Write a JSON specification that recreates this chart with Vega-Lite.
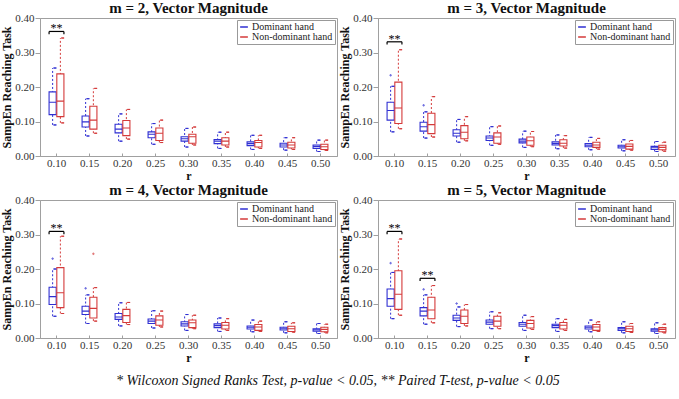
{
"$schema": "https://vega.github.io/schema/vega-lite/v6.json",
"padding": {"left": 0, "top": 0, "right": 2, "bottom": 2},
"datasets": {
"box": [
{"m":2,"r":"0.10","hand":"Dominant hand","lo":0.090,"q1":0.120,"med":0.156,"q3":0.186,"hi":0.255},
{"m":2,"r":"0.10","hand":"Non-dominant hand","lo":0.096,"q1":0.114,"med":0.159,"q3":0.238,"hi":0.342},
{"m":2,"r":"0.15","hand":"Dominant hand","lo":0.058,"q1":0.084,"med":0.099,"q3":0.116,"hi":0.166},
{"m":2,"r":"0.15","hand":"Non-dominant hand","lo":0.066,"q1":0.078,"med":0.104,"q3":0.144,"hi":0.196},
{"m":2,"r":"0.20","hand":"Dominant hand","lo":0.043,"q1":0.067,"med":0.078,"q3":0.092,"hi":0.122},
{"m":2,"r":"0.20","hand":"Non-dominant hand","lo":0.049,"q1":0.059,"med":0.081,"q3":0.103,"hi":0.135},
{"m":2,"r":"0.25","hand":"Dominant hand","lo":0.034,"q1":0.053,"med":0.063,"q3":0.070,"hi":0.094},
{"m":2,"r":"0.25","hand":"Non-dominant hand","lo":0.039,"q1":0.045,"med":0.066,"q3":0.081,"hi":0.104},
{"m":2,"r":"0.30","hand":"Dominant hand","lo":0.026,"q1":0.043,"med":0.050,"q3":0.056,"hi":0.080},
{"m":2,"r":"0.30","hand":"Non-dominant hand","lo":0.032,"q1":0.037,"med":0.056,"q3":0.063,"hi":0.084},
{"m":2,"r":"0.35","hand":"Dominant hand","lo":0.022,"q1":0.036,"med":0.043,"q3":0.048,"hi":0.069},
{"m":2,"r":"0.35","hand":"Non-dominant hand","lo":0.026,"q1":0.032,"med":0.043,"q3":0.053,"hi":0.069},
{"m":2,"r":"0.40","hand":"Dominant hand","lo":0.019,"q1":0.030,"med":0.036,"q3":0.041,"hi":0.060},
{"m":2,"r":"0.40","hand":"Non-dominant hand","lo":0.022,"q1":0.026,"med":0.039,"q3":0.045,"hi":0.060},
{"m":2,"r":"0.45","hand":"Dominant hand","lo":0.017,"q1":0.026,"med":0.032,"q3":0.037,"hi":0.053},
{"m":2,"r":"0.45","hand":"Non-dominant hand","lo":0.019,"q1":0.023,"med":0.032,"q3":0.040,"hi":0.053},
{"m":2,"r":"0.50","hand":"Dominant hand","lo":0.013,"q1":0.022,"med":0.028,"q3":0.032,"hi":0.046},
{"m":2,"r":"0.50","hand":"Non-dominant hand","lo":0.016,"q1":0.019,"med":0.027,"q3":0.034,"hi":0.046},
{"m":3,"r":"0.10","hand":"Dominant hand","lo":0.070,"q1":0.104,"med":0.132,"q3":0.156,"hi":0.202},
{"m":3,"r":"0.10","hand":"Non-dominant hand","lo":0.079,"q1":0.094,"med":0.139,"q3":0.214,"hi":0.308},
{"m":3,"r":"0.15","hand":"Dominant hand","lo":0.052,"q1":0.072,"med":0.085,"q3":0.098,"hi":0.128},
{"m":3,"r":"0.15","hand":"Non-dominant hand","lo":0.055,"q1":0.065,"med":0.091,"q3":0.124,"hi":0.172},
{"m":3,"r":"0.20","hand":"Dominant hand","lo":0.040,"q1":0.058,"med":0.066,"q3":0.076,"hi":0.106},
{"m":3,"r":"0.20","hand":"Non-dominant hand","lo":0.044,"q1":0.050,"med":0.069,"q3":0.088,"hi":0.114},
{"m":3,"r":"0.25","hand":"Dominant hand","lo":0.031,"q1":0.045,"med":0.052,"q3":0.058,"hi":0.085},
{"m":3,"r":"0.25","hand":"Non-dominant hand","lo":0.034,"q1":0.037,"med":0.055,"q3":0.067,"hi":0.087},
{"m":3,"r":"0.30","hand":"Dominant hand","lo":0.025,"q1":0.038,"med":0.043,"q3":0.049,"hi":0.072},
{"m":3,"r":"0.30","hand":"Non-dominant hand","lo":0.027,"q1":0.031,"med":0.044,"q3":0.055,"hi":0.071},
{"m":3,"r":"0.35","hand":"Dominant hand","lo":0.021,"q1":0.032,"med":0.036,"q3":0.041,"hi":0.061},
{"m":3,"r":"0.35","hand":"Non-dominant hand","lo":0.023,"q1":0.029,"med":0.037,"q3":0.047,"hi":0.059},
{"m":3,"r":"0.40","hand":"Dominant hand","lo":0.018,"q1":0.027,"med":0.031,"q3":0.036,"hi":0.054},
{"m":3,"r":"0.40","hand":"Non-dominant hand","lo":0.020,"q1":0.025,"med":0.032,"q3":0.040,"hi":0.051},
{"m":3,"r":"0.45","hand":"Dominant hand","lo":0.015,"q1":0.023,"med":0.027,"q3":0.031,"hi":0.047},
{"m":3,"r":"0.45","hand":"Non-dominant hand","lo":0.017,"q1":0.020,"med":0.028,"q3":0.035,"hi":0.045},
{"m":3,"r":"0.50","hand":"Dominant hand","lo":0.013,"q1":0.019,"med":0.024,"q3":0.028,"hi":0.042},
{"m":3,"r":"0.50","hand":"Non-dominant hand","lo":0.014,"q1":0.018,"med":0.025,"q3":0.031,"hi":0.040},
{"m":4,"r":"0.10","hand":"Dominant hand","lo":0.063,"q1":0.097,"med":0.120,"q3":0.147,"hi":0.200},
{"m":4,"r":"0.10","hand":"Non-dominant hand","lo":0.071,"q1":0.088,"med":0.131,"q3":0.204,"hi":0.295},
{"m":4,"r":"0.15","hand":"Dominant hand","lo":0.042,"q1":0.068,"med":0.078,"q3":0.092,"hi":0.125},
{"m":4,"r":"0.15","hand":"Non-dominant hand","lo":0.049,"q1":0.058,"med":0.086,"q3":0.118,"hi":0.146},
{"m":4,"r":"0.20","hand":"Dominant hand","lo":0.035,"q1":0.054,"med":0.061,"q3":0.071,"hi":0.102},
{"m":4,"r":"0.20","hand":"Non-dominant hand","lo":0.039,"q1":0.045,"med":0.065,"q3":0.083,"hi":0.103},
{"m":4,"r":"0.25","hand":"Dominant hand","lo":0.029,"q1":0.042,"med":0.049,"q3":0.055,"hi":0.079},
{"m":4,"r":"0.25","hand":"Non-dominant hand","lo":0.032,"q1":0.037,"med":0.052,"q3":0.064,"hi":0.078},
{"m":4,"r":"0.30","hand":"Dominant hand","lo":0.022,"q1":0.035,"med":0.041,"q3":0.047,"hi":0.068},
{"m":4,"r":"0.30","hand":"Non-dominant hand","lo":0.027,"q1":0.030,"med":0.044,"q3":0.052,"hi":0.066},
{"m":4,"r":"0.35","hand":"Dominant hand","lo":0.019,"q1":0.030,"med":0.036,"q3":0.041,"hi":0.058},
{"m":4,"r":"0.35","hand":"Non-dominant hand","lo":0.022,"q1":0.026,"med":0.037,"q3":0.045,"hi":0.056},
{"m":4,"r":"0.40","hand":"Dominant hand","lo":0.018,"q1":0.026,"med":0.031,"q3":0.035,"hi":0.052},
{"m":4,"r":"0.40","hand":"Non-dominant hand","lo":0.019,"q1":0.022,"med":0.032,"q3":0.039,"hi":0.049},
{"m":4,"r":"0.45","hand":"Dominant hand","lo":0.015,"q1":0.023,"med":0.027,"q3":0.031,"hi":0.047},
{"m":4,"r":"0.45","hand":"Non-dominant hand","lo":0.017,"q1":0.019,"med":0.027,"q3":0.034,"hi":0.044},
{"m":4,"r":"0.50","hand":"Dominant hand","lo":0.013,"q1":0.020,"med":0.024,"q3":0.027,"hi":0.042},
{"m":4,"r":"0.50","hand":"Non-dominant hand","lo":0.015,"q1":0.018,"med":0.025,"q3":0.031,"hi":0.040},
{"m":5,"r":"0.10","hand":"Dominant hand","lo":0.056,"q1":0.092,"med":0.114,"q3":0.142,"hi":0.190},
{"m":5,"r":"0.10","hand":"Non-dominant hand","lo":0.066,"q1":0.083,"med":0.127,"q3":0.195,"hi":0.287},
{"m":5,"r":"0.15","hand":"Dominant hand","lo":0.040,"q1":0.064,"med":0.078,"q3":0.088,"hi":0.125},
{"m":5,"r":"0.15","hand":"Non-dominant hand","lo":0.044,"q1":0.056,"med":0.081,"q3":0.118,"hi":0.152},
{"m":5,"r":"0.20","hand":"Dominant hand","lo":0.033,"q1":0.051,"med":0.058,"q3":0.066,"hi":0.090},
{"m":5,"r":"0.20","hand":"Non-dominant hand","lo":0.035,"q1":0.042,"med":0.063,"q3":0.081,"hi":0.097},
{"m":5,"r":"0.25","hand":"Dominant hand","lo":0.027,"q1":0.040,"med":0.046,"q3":0.052,"hi":0.076},
{"m":5,"r":"0.25","hand":"Non-dominant hand","lo":0.027,"q1":0.034,"med":0.049,"q3":0.063,"hi":0.073},
{"m":5,"r":"0.30","hand":"Dominant hand","lo":0.022,"q1":0.034,"med":0.040,"q3":0.045,"hi":0.066},
{"m":5,"r":"0.30","hand":"Non-dominant hand","lo":0.025,"q1":0.029,"med":0.042,"q3":0.051,"hi":0.062},
{"m":5,"r":"0.35","hand":"Dominant hand","lo":0.019,"q1":0.030,"med":0.036,"q3":0.040,"hi":0.056},
{"m":5,"r":"0.35","hand":"Non-dominant hand","lo":0.022,"q1":0.026,"med":0.037,"q3":0.045,"hi":0.054},
{"m":5,"r":"0.40","hand":"Dominant hand","lo":0.018,"q1":0.026,"med":0.031,"q3":0.035,"hi":0.052},
{"m":5,"r":"0.40","hand":"Non-dominant hand","lo":0.019,"q1":0.022,"med":0.032,"q3":0.039,"hi":0.047},
{"m":5,"r":"0.45","hand":"Dominant hand","lo":0.015,"q1":0.022,"med":0.027,"q3":0.030,"hi":0.047},
{"m":5,"r":"0.45","hand":"Non-dominant hand","lo":0.016,"q1":0.019,"med":0.027,"q3":0.034,"hi":0.042},
{"m":5,"r":"0.50","hand":"Dominant hand","lo":0.013,"q1":0.020,"med":0.024,"q3":0.027,"hi":0.044},
{"m":5,"r":"0.50","hand":"Non-dominant hand","lo":0.015,"q1":0.018,"med":0.025,"q3":0.030,"hi":0.040}
],
"out": [
{"m":3,"r":"0.10","hand":"Dominant hand","v":0.234},
{"m":3,"r":"0.15","hand":"Dominant hand","v":0.147},
{"m":4,"r":"0.10","hand":"Dominant hand","v":0.230},
{"m":4,"r":"0.15","hand":"Dominant hand","v":0.144},
{"m":4,"r":"0.15","hand":"Non-dominant hand","v":0.244},
{"m":5,"r":"0.10","hand":"Dominant hand","v":0.217},
{"m":5,"r":"0.15","hand":"Dominant hand","v":0.141},
{"m":5,"r":"0.20","hand":"Dominant hand","v":0.100}
],
"sig": [
{"m":2,"r":"0.10","y":0.361,"ylo":0.353,"label":"**"},
{"m":3,"r":"0.10","y":0.331,"ylo":0.323,"label":"**"},
{"m":4,"r":"0.10","y":0.309,"ylo":0.301,"label":"**"},
{"m":5,"r":"0.10","y":0.309,"ylo":0.301,"label":"**"},
{"m":5,"r":"0.15","y":0.173,"ylo":0.165,"label":"**"}
]
},
"columns": 2,
"spacing": {"row": 0, "column": 0},
"resolve": {"scale": {"stroke": "independent"}, "legend": {"stroke": "independent"}},
"title": {"text": "* Wilcoxon Signed Ranks Test, p-value < 0.05, ** Paired T-test, p-value < 0.05", "orient": "bottom", "anchor": "middle", "fontStyle": "italic", "fontWeight": "normal", "fontSize": 14, "offset": 10},
"concat": [
{"title": "m = 2, Vector Magnitude", "width": 297, "height": 138, "layer": [
 {"data": {"name": "box"}, "transform": [{"filter": "datum.m == 2"}], "mark": {"type": "rule", "strokeDash": [2, 2], "strokeWidth": 1},
  "encoding": {"x": {"field": "r", "type": "nominal", "scale": {"domain": ["0.10","0.15","0.20","0.25","0.30","0.35","0.40","0.45","0.50"], "paddingInner": 0.55, "paddingOuter": 0.275}, "title": "r", "axis": {"labelAngle": 0}},
   "xOffset": {"field": "hand", "type": "nominal", "scale": {"domain": ["Dominant hand","Non-dominant hand"], "paddingInner": 0.08}},
   "y": {"field": "lo", "type": "quantitative", "scale": {"domain": [0, 0.4]}, "title": "SampEn Reaching Task"},
   "y2": {"field": "hi"},
   "stroke": {"field": "hand", "type": "nominal", "title": null, "scale": {"domain": ["Dominant hand","Non-dominant hand"], "range": ["#2f2fd2", "#d43a3a"]}, "legend": {"symbolType": "stroke"}}}},
 {"data": {"name": "box"}, "transform": [{"filter": "datum.m == 2"}], "mark": {"type": "bar", "fill": "white", "strokeWidth": 1.1},
  "encoding": {"x": {"field": "r", "type": "nominal", "title": "r"}, "xOffset": {"field": "hand", "type": "nominal"},
   "y": {"field": "q1", "type": "quantitative", "title": "SampEn Reaching Task"}, "y2": {"field": "q3"},
   "stroke": {"field": "hand", "type": "nominal", "title": null}}},
 {"data": {"name": "box"}, "transform": [{"filter": "datum.m == 2"}], "mark": {"type": "bar", "strokeWidth": 1.1},
  "encoding": {"x": {"field": "r", "type": "nominal", "title": "r"}, "xOffset": {"field": "hand", "type": "nominal"},
   "y": {"field": "med", "type": "quantitative", "title": "SampEn Reaching Task"}, "y2": {"field": "med"},
   "stroke": {"field": "hand", "type": "nominal", "title": null}}},
 {"data": {"name": "box"}, "transform": [{"filter": "datum.m == 2"}], "mark": {"type": "bar", "strokeWidth": 1, "width": {"band": 0.4}},
  "encoding": {"x": {"field": "r", "type": "nominal", "title": "r"}, "xOffset": {"field": "hand", "type": "nominal"},
   "y": {"field": "hi", "type": "quantitative", "title": "SampEn Reaching Task"}, "y2": {"field": "hi"},
   "stroke": {"field": "hand", "type": "nominal", "title": null}}},
 {"data": {"name": "box"}, "transform": [{"filter": "datum.m == 2"}], "mark": {"type": "bar", "strokeWidth": 1, "width": {"band": 0.4}},
  "encoding": {"x": {"field": "r", "type": "nominal", "title": "r"}, "xOffset": {"field": "hand", "type": "nominal"},
   "y": {"field": "lo", "type": "quantitative", "title": "SampEn Reaching Task"}, "y2": {"field": "lo"},
   "stroke": {"field": "hand", "type": "nominal", "title": null}}},
 {"data": {"name": "sig"}, "transform": [{"filter": "datum.m == 2"}], "mark": {"type": "rule", "color": "black", "strokeWidth": 1.2},
  "encoding": {"x": {"field": "r", "type": "nominal", "title": "r", "bandPosition": 0}, "x2": {"field": "r", "bandPosition": 1}, "y": {"field": "y", "type": "quantitative", "title": "SampEn Reaching Task"}}},
 {"data": {"name": "sig"}, "transform": [{"filter": "datum.m == 2"}], "mark": {"type": "rule", "color": "black", "strokeWidth": 1.2},
  "encoding": {"x": {"field": "r", "type": "nominal", "title": "r", "bandPosition": 0}, "y": {"field": "y", "type": "quantitative", "title": "SampEn Reaching Task"}, "y2": {"field": "ylo"}}},
 {"data": {"name": "sig"}, "transform": [{"filter": "datum.m == 2"}], "mark": {"type": "rule", "color": "black", "strokeWidth": 1.2},
  "encoding": {"x": {"field": "r", "type": "nominal", "title": "r", "bandPosition": 1}, "y": {"field": "y", "type": "quantitative", "title": "SampEn Reaching Task"}, "y2": {"field": "ylo"}}},
 {"data": {"name": "sig"}, "transform": [{"filter": "datum.m == 2"}], "mark": {"type": "text", "color": "black", "fontSize": 12, "fontWeight": "normal", "baseline": "alphabetic", "dy": 1},
  "encoding": {"x": {"field": "r", "type": "nominal", "title": "r"}, "y": {"field": "y", "type": "quantitative", "title": "SampEn Reaching Task"}, "text": {"field": "label"}}}
]},
{"title": "m = 3, Vector Magnitude", "width": 297, "height": 138, "layer": [
 {"data": {"name": "box"}, "transform": [{"filter": "datum.m == 3"}], "mark": {"type": "rule", "strokeDash": [2, 2], "strokeWidth": 1},
  "encoding": {"x": {"field": "r", "type": "nominal", "scale": {"domain": ["0.10","0.15","0.20","0.25","0.30","0.35","0.40","0.45","0.50"], "paddingInner": 0.55, "paddingOuter": 0.275}, "title": "r", "axis": {"labelAngle": 0}},
   "xOffset": {"field": "hand", "type": "nominal", "scale": {"domain": ["Dominant hand","Non-dominant hand"], "paddingInner": 0.08}},
   "y": {"field": "lo", "type": "quantitative", "scale": {"domain": [0, 0.4]}, "title": "SampEn Reaching Task"},
   "y2": {"field": "hi"},
   "stroke": {"field": "hand", "type": "nominal", "title": null, "scale": {"domain": ["Dominant hand","Non-dominant hand"], "range": ["#2f2fd2", "#d43a3a"]}, "legend": {"symbolType": "stroke"}}}},
 {"data": {"name": "box"}, "transform": [{"filter": "datum.m == 3"}], "mark": {"type": "bar", "fill": "white", "strokeWidth": 1.1},
  "encoding": {"x": {"field": "r", "type": "nominal", "title": "r"}, "xOffset": {"field": "hand", "type": "nominal"},
   "y": {"field": "q1", "type": "quantitative", "title": "SampEn Reaching Task"}, "y2": {"field": "q3"},
   "stroke": {"field": "hand", "type": "nominal", "title": null}}},
 {"data": {"name": "box"}, "transform": [{"filter": "datum.m == 3"}], "mark": {"type": "bar", "strokeWidth": 1.1},
  "encoding": {"x": {"field": "r", "type": "nominal", "title": "r"}, "xOffset": {"field": "hand", "type": "nominal"},
   "y": {"field": "med", "type": "quantitative", "title": "SampEn Reaching Task"}, "y2": {"field": "med"},
   "stroke": {"field": "hand", "type": "nominal", "title": null}}},
 {"data": {"name": "box"}, "transform": [{"filter": "datum.m == 3"}], "mark": {"type": "bar", "strokeWidth": 1, "width": {"band": 0.4}},
  "encoding": {"x": {"field": "r", "type": "nominal", "title": "r"}, "xOffset": {"field": "hand", "type": "nominal"},
   "y": {"field": "hi", "type": "quantitative", "title": "SampEn Reaching Task"}, "y2": {"field": "hi"},
   "stroke": {"field": "hand", "type": "nominal", "title": null}}},
 {"data": {"name": "box"}, "transform": [{"filter": "datum.m == 3"}], "mark": {"type": "bar", "strokeWidth": 1, "width": {"band": 0.4}},
  "encoding": {"x": {"field": "r", "type": "nominal", "title": "r"}, "xOffset": {"field": "hand", "type": "nominal"},
   "y": {"field": "lo", "type": "quantitative", "title": "SampEn Reaching Task"}, "y2": {"field": "lo"},
   "stroke": {"field": "hand", "type": "nominal", "title": null}}},
 {"data": {"name": "out"}, "transform": [{"filter": "datum.m == 3"}], "mark": {"type": "point", "shape": "M-0.5,0H0.5M0,-0.5V0.5", "size": 25, "strokeWidth": 1},
  "encoding": {"x": {"field": "r", "type": "nominal", "title": "r"}, "xOffset": {"field": "hand", "type": "nominal"},
   "y": {"field": "v", "type": "quantitative", "title": "SampEn Reaching Task"},
   "stroke": {"field": "hand", "type": "nominal", "title": null}}},
 {"data": {"name": "sig"}, "transform": [{"filter": "datum.m == 3"}], "mark": {"type": "rule", "color": "black", "strokeWidth": 1.2},
  "encoding": {"x": {"field": "r", "type": "nominal", "title": "r", "bandPosition": 0}, "x2": {"field": "r", "bandPosition": 1}, "y": {"field": "y", "type": "quantitative", "title": "SampEn Reaching Task"}}},
 {"data": {"name": "sig"}, "transform": [{"filter": "datum.m == 3"}], "mark": {"type": "rule", "color": "black", "strokeWidth": 1.2},
  "encoding": {"x": {"field": "r", "type": "nominal", "title": "r", "bandPosition": 0}, "y": {"field": "y", "type": "quantitative", "title": "SampEn Reaching Task"}, "y2": {"field": "ylo"}}},
 {"data": {"name": "sig"}, "transform": [{"filter": "datum.m == 3"}], "mark": {"type": "rule", "color": "black", "strokeWidth": 1.2},
  "encoding": {"x": {"field": "r", "type": "nominal", "title": "r", "bandPosition": 1}, "y": {"field": "y", "type": "quantitative", "title": "SampEn Reaching Task"}, "y2": {"field": "ylo"}}},
 {"data": {"name": "sig"}, "transform": [{"filter": "datum.m == 3"}], "mark": {"type": "text", "color": "black", "fontSize": 12, "fontWeight": "normal", "baseline": "alphabetic", "dy": 1},
  "encoding": {"x": {"field": "r", "type": "nominal", "title": "r"}, "y": {"field": "y", "type": "quantitative", "title": "SampEn Reaching Task"}, "text": {"field": "label"}}}
]},
{"title": "m = 4, Vector Magnitude", "width": 297, "height": 138, "layer": [
 {"data": {"name": "box"}, "transform": [{"filter": "datum.m == 4"}], "mark": {"type": "rule", "strokeDash": [2, 2], "strokeWidth": 1},
  "encoding": {"x": {"field": "r", "type": "nominal", "scale": {"domain": ["0.10","0.15","0.20","0.25","0.30","0.35","0.40","0.45","0.50"], "paddingInner": 0.55, "paddingOuter": 0.275}, "title": "r", "axis": {"labelAngle": 0}},
   "xOffset": {"field": "hand", "type": "nominal", "scale": {"domain": ["Dominant hand","Non-dominant hand"], "paddingInner": 0.08}},
   "y": {"field": "lo", "type": "quantitative", "scale": {"domain": [0, 0.4]}, "title": "SampEn Reaching Task"},
   "y2": {"field": "hi"},
   "stroke": {"field": "hand", "type": "nominal", "title": null, "scale": {"domain": ["Dominant hand","Non-dominant hand"], "range": ["#2f2fd2", "#d43a3a"]}, "legend": {"symbolType": "stroke"}}}},
 {"data": {"name": "box"}, "transform": [{"filter": "datum.m == 4"}], "mark": {"type": "bar", "fill": "white", "strokeWidth": 1.1},
  "encoding": {"x": {"field": "r", "type": "nominal", "title": "r"}, "xOffset": {"field": "hand", "type": "nominal"},
   "y": {"field": "q1", "type": "quantitative", "title": "SampEn Reaching Task"}, "y2": {"field": "q3"},
   "stroke": {"field": "hand", "type": "nominal", "title": null}}},
 {"data": {"name": "box"}, "transform": [{"filter": "datum.m == 4"}], "mark": {"type": "bar", "strokeWidth": 1.1},
  "encoding": {"x": {"field": "r", "type": "nominal", "title": "r"}, "xOffset": {"field": "hand", "type": "nominal"},
   "y": {"field": "med", "type": "quantitative", "title": "SampEn Reaching Task"}, "y2": {"field": "med"},
   "stroke": {"field": "hand", "type": "nominal", "title": null}}},
 {"data": {"name": "box"}, "transform": [{"filter": "datum.m == 4"}], "mark": {"type": "bar", "strokeWidth": 1, "width": {"band": 0.4}},
  "encoding": {"x": {"field": "r", "type": "nominal", "title": "r"}, "xOffset": {"field": "hand", "type": "nominal"},
   "y": {"field": "hi", "type": "quantitative", "title": "SampEn Reaching Task"}, "y2": {"field": "hi"},
   "stroke": {"field": "hand", "type": "nominal", "title": null}}},
 {"data": {"name": "box"}, "transform": [{"filter": "datum.m == 4"}], "mark": {"type": "bar", "strokeWidth": 1, "width": {"band": 0.4}},
  "encoding": {"x": {"field": "r", "type": "nominal", "title": "r"}, "xOffset": {"field": "hand", "type": "nominal"},
   "y": {"field": "lo", "type": "quantitative", "title": "SampEn Reaching Task"}, "y2": {"field": "lo"},
   "stroke": {"field": "hand", "type": "nominal", "title": null}}},
 {"data": {"name": "out"}, "transform": [{"filter": "datum.m == 4"}], "mark": {"type": "point", "shape": "M-0.5,0H0.5M0,-0.5V0.5", "size": 25, "strokeWidth": 1},
  "encoding": {"x": {"field": "r", "type": "nominal", "title": "r"}, "xOffset": {"field": "hand", "type": "nominal"},
   "y": {"field": "v", "type": "quantitative", "title": "SampEn Reaching Task"},
   "stroke": {"field": "hand", "type": "nominal", "title": null}}},
 {"data": {"name": "sig"}, "transform": [{"filter": "datum.m == 4"}], "mark": {"type": "rule", "color": "black", "strokeWidth": 1.2},
  "encoding": {"x": {"field": "r", "type": "nominal", "title": "r", "bandPosition": 0}, "x2": {"field": "r", "bandPosition": 1}, "y": {"field": "y", "type": "quantitative", "title": "SampEn Reaching Task"}}},
 {"data": {"name": "sig"}, "transform": [{"filter": "datum.m == 4"}], "mark": {"type": "rule", "color": "black", "strokeWidth": 1.2},
  "encoding": {"x": {"field": "r", "type": "nominal", "title": "r", "bandPosition": 0}, "y": {"field": "y", "type": "quantitative", "title": "SampEn Reaching Task"}, "y2": {"field": "ylo"}}},
 {"data": {"name": "sig"}, "transform": [{"filter": "datum.m == 4"}], "mark": {"type": "rule", "color": "black", "strokeWidth": 1.2},
  "encoding": {"x": {"field": "r", "type": "nominal", "title": "r", "bandPosition": 1}, "y": {"field": "y", "type": "quantitative", "title": "SampEn Reaching Task"}, "y2": {"field": "ylo"}}},
 {"data": {"name": "sig"}, "transform": [{"filter": "datum.m == 4"}], "mark": {"type": "text", "color": "black", "fontSize": 12, "fontWeight": "normal", "baseline": "alphabetic", "dy": 1},
  "encoding": {"x": {"field": "r", "type": "nominal", "title": "r"}, "y": {"field": "y", "type": "quantitative", "title": "SampEn Reaching Task"}, "text": {"field": "label"}}}
]},
{"title": "m = 5, Vector Magnitude", "width": 297, "height": 138, "layer": [
 {"data": {"name": "box"}, "transform": [{"filter": "datum.m == 5"}], "mark": {"type": "rule", "strokeDash": [2, 2], "strokeWidth": 1},
  "encoding": {"x": {"field": "r", "type": "nominal", "scale": {"domain": ["0.10","0.15","0.20","0.25","0.30","0.35","0.40","0.45","0.50"], "paddingInner": 0.55, "paddingOuter": 0.275}, "title": "r", "axis": {"labelAngle": 0}},
   "xOffset": {"field": "hand", "type": "nominal", "scale": {"domain": ["Dominant hand","Non-dominant hand"], "paddingInner": 0.08}},
   "y": {"field": "lo", "type": "quantitative", "scale": {"domain": [0, 0.4]}, "title": "SampEn Reaching Task"},
   "y2": {"field": "hi"},
   "stroke": {"field": "hand", "type": "nominal", "title": null, "scale": {"domain": ["Dominant hand","Non-dominant hand"], "range": ["#2f2fd2", "#d43a3a"]}, "legend": {"symbolType": "stroke"}}}},
 {"data": {"name": "box"}, "transform": [{"filter": "datum.m == 5"}], "mark": {"type": "bar", "fill": "white", "strokeWidth": 1.1},
  "encoding": {"x": {"field": "r", "type": "nominal", "title": "r"}, "xOffset": {"field": "hand", "type": "nominal"},
   "y": {"field": "q1", "type": "quantitative", "title": "SampEn Reaching Task"}, "y2": {"field": "q3"},
   "stroke": {"field": "hand", "type": "nominal", "title": null}}},
 {"data": {"name": "box"}, "transform": [{"filter": "datum.m == 5"}], "mark": {"type": "bar", "strokeWidth": 1.1},
  "encoding": {"x": {"field": "r", "type": "nominal", "title": "r"}, "xOffset": {"field": "hand", "type": "nominal"},
   "y": {"field": "med", "type": "quantitative", "title": "SampEn Reaching Task"}, "y2": {"field": "med"},
   "stroke": {"field": "hand", "type": "nominal", "title": null}}},
 {"data": {"name": "box"}, "transform": [{"filter": "datum.m == 5"}], "mark": {"type": "bar", "strokeWidth": 1, "width": {"band": 0.4}},
  "encoding": {"x": {"field": "r", "type": "nominal", "title": "r"}, "xOffset": {"field": "hand", "type": "nominal"},
   "y": {"field": "hi", "type": "quantitative", "title": "SampEn Reaching Task"}, "y2": {"field": "hi"},
   "stroke": {"field": "hand", "type": "nominal", "title": null}}},
 {"data": {"name": "box"}, "transform": [{"filter": "datum.m == 5"}], "mark": {"type": "bar", "strokeWidth": 1, "width": {"band": 0.4}},
  "encoding": {"x": {"field": "r", "type": "nominal", "title": "r"}, "xOffset": {"field": "hand", "type": "nominal"},
   "y": {"field": "lo", "type": "quantitative", "title": "SampEn Reaching Task"}, "y2": {"field": "lo"},
   "stroke": {"field": "hand", "type": "nominal", "title": null}}},
 {"data": {"name": "out"}, "transform": [{"filter": "datum.m == 5"}], "mark": {"type": "point", "shape": "M-0.5,0H0.5M0,-0.5V0.5", "size": 25, "strokeWidth": 1},
  "encoding": {"x": {"field": "r", "type": "nominal", "title": "r"}, "xOffset": {"field": "hand", "type": "nominal"},
   "y": {"field": "v", "type": "quantitative", "title": "SampEn Reaching Task"},
   "stroke": {"field": "hand", "type": "nominal", "title": null}}},
 {"data": {"name": "sig"}, "transform": [{"filter": "datum.m == 5"}], "mark": {"type": "rule", "color": "black", "strokeWidth": 1.2},
  "encoding": {"x": {"field": "r", "type": "nominal", "title": "r", "bandPosition": 0}, "x2": {"field": "r", "bandPosition": 1}, "y": {"field": "y", "type": "quantitative", "title": "SampEn Reaching Task"}}},
 {"data": {"name": "sig"}, "transform": [{"filter": "datum.m == 5"}], "mark": {"type": "rule", "color": "black", "strokeWidth": 1.2},
  "encoding": {"x": {"field": "r", "type": "nominal", "title": "r", "bandPosition": 0}, "y": {"field": "y", "type": "quantitative", "title": "SampEn Reaching Task"}, "y2": {"field": "ylo"}}},
 {"data": {"name": "sig"}, "transform": [{"filter": "datum.m == 5"}], "mark": {"type": "rule", "color": "black", "strokeWidth": 1.2},
  "encoding": {"x": {"field": "r", "type": "nominal", "title": "r", "bandPosition": 1}, "y": {"field": "y", "type": "quantitative", "title": "SampEn Reaching Task"}, "y2": {"field": "ylo"}}},
 {"data": {"name": "sig"}, "transform": [{"filter": "datum.m == 5"}], "mark": {"type": "text", "color": "black", "fontSize": 12, "fontWeight": "normal", "baseline": "alphabetic", "dy": 1},
  "encoding": {"x": {"field": "r", "type": "nominal", "title": "r"}, "y": {"field": "y", "type": "quantitative", "title": "SampEn Reaching Task"}, "text": {"field": "label"}}}
]}
],
"config": {
 "font": "Liberation Serif",
 "view": {"stroke": "#a0a0a0"},
 "axis": {"labelFont": "Liberation Serif", "labelFontSize": 11, "labelColor": "#333", "titleFont": "Liberation Serif", "titleFontSize": 12, "titleFontWeight": "bold", "titleColor": "#111", "domainColor": "#a0a0a0", "tickColor": "#a0a0a0", "labelPadding": 3, "titlePadding": 2, "grid": false},
 "axisX": {"tickSize": -3, "labelPadding": 4},
 "axisY": {"titlePadding": 1, "labelPadding": 1, "format": ".2f"},
 "text": {"font": "Liberation Serif"},
 "title": {"font": "Liberation Serif", "fontSize": 15, "fontWeight": "bold", "color": "#111", "offset": -4},
 "legend": {"orient": "top-right", "offset": 2, "padding": 2, "strokeColor": "#999", "fillColor": "white", "labelFont": "Liberation Serif", "labelFontSize": 10, "labelColor": "#222", "rowPadding": 0, "symbolStrokeWidth": 1.5, "symbolSize": 60, "labelOffset": 3}
}
}
